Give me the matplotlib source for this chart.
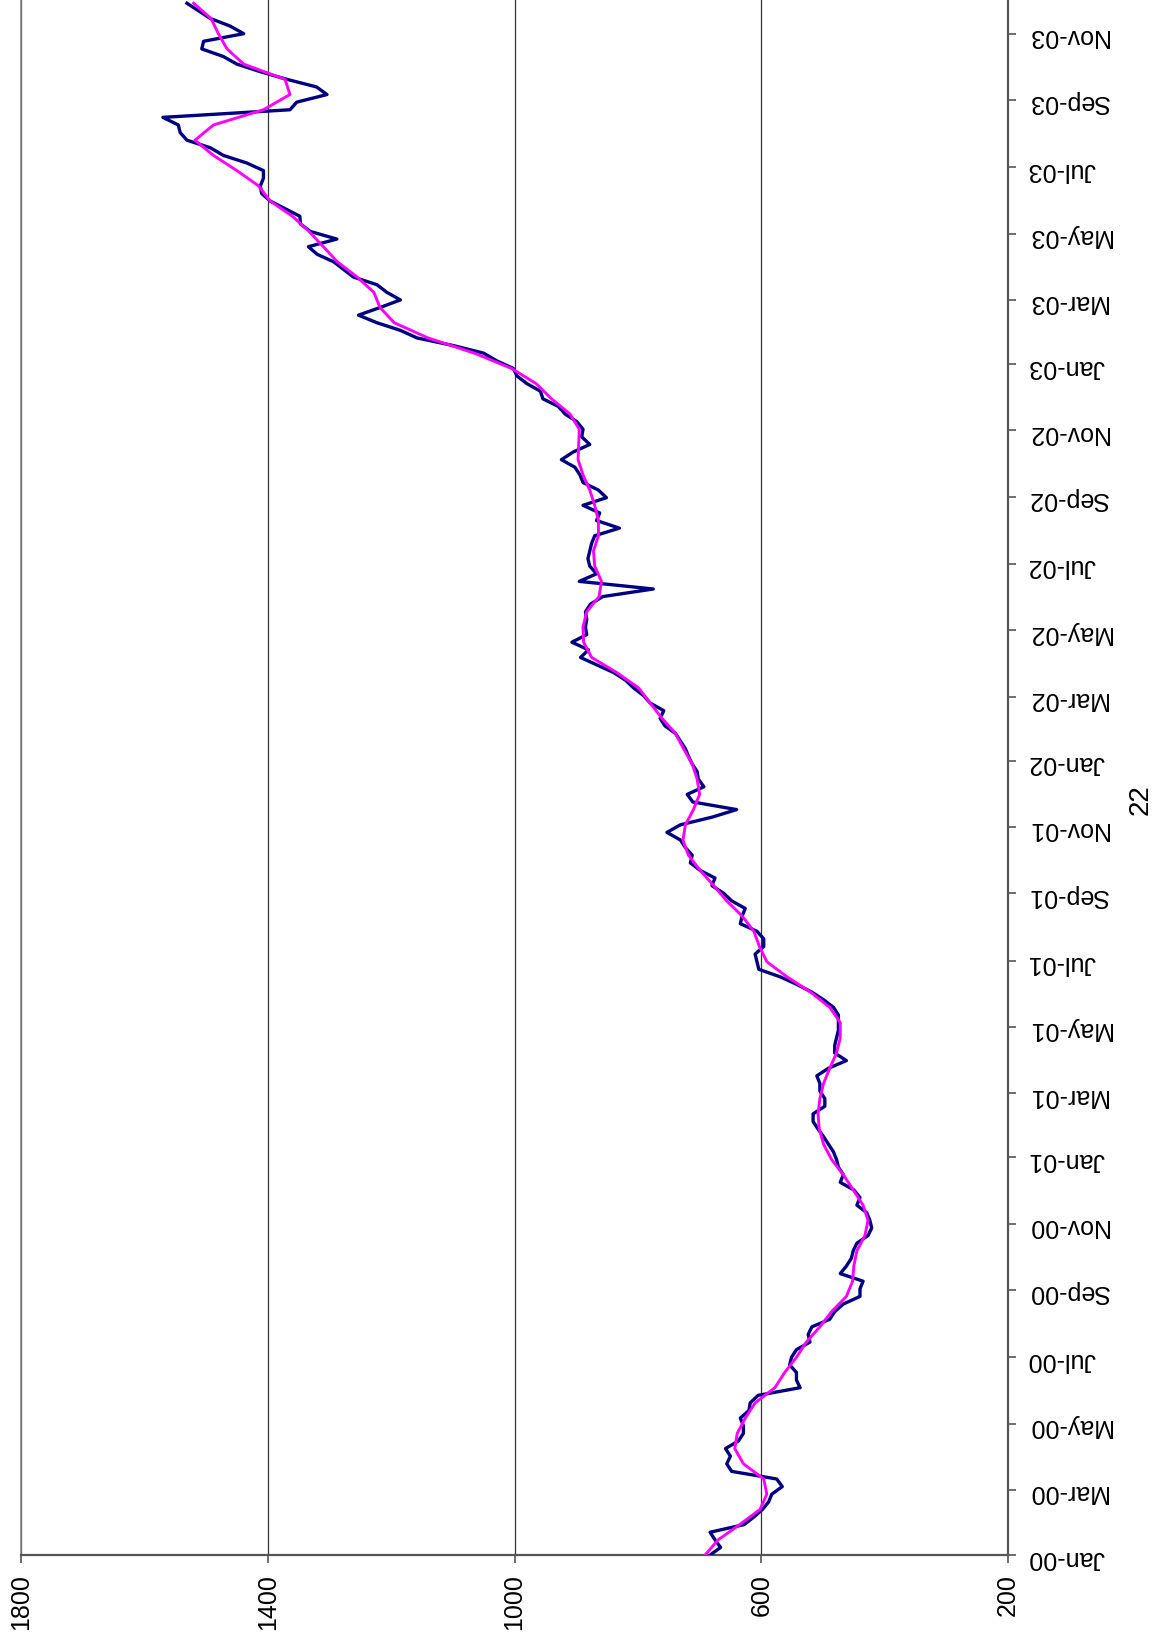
import numpy as np
import pandas as pd
import matplotlib
matplotlib.use('Agg')
import matplotlib.pyplot as plt
import matplotlib.dates as mdates

plt.rcParams['font.family'] = ['Liberation Sans', 'DejaVu Sans']

# weekly index values, Jan 2000 - Nov 2003
index_weekly = [
    683, 666, 675, 683, 628, 612, 598, 588, 583, 566,
    575, 648, 656, 650, 658, 637, 629, 629, 634, 620,
    618, 605, 537, 543, 543, 554, 551, 543, 521, 524,
    518, 489, 481, 467, 440, 440, 435, 472, 462, 454,
    451, 445, 427, 421, 424, 429, 445, 440, 450, 472,
    467, 475, 478, 483, 491, 499, 508, 516, 516, 497,
    497, 505, 505, 510, 491, 462, 481, 481, 478, 475,
    475, 475, 483, 499, 518, 542, 569, 604, 607, 610,
    596, 596, 607, 634, 631, 626, 648, 661, 680, 675,
    699, 715, 712, 723, 731, 753, 731, 680, 640, 711,
    720, 693, 702, 704, 712, 718, 723, 731, 739, 756,
    764, 758, 780, 791, 807, 820, 839, 866, 893, 880,
    907, 883, 885, 883, 885, 877, 857, 775, 895, 867,
    878, 881, 878, 875, 870, 830, 867, 862, 889, 851,
    864, 889, 894, 902, 924, 905, 878, 891, 889, 899,
    918, 929, 954, 958, 980, 996, 1002, 1029, 1050, 1099,
    1158, 1185, 1223, 1253, 1218, 1185, 1207, 1223, 1261, 1277,
    1293, 1320, 1334, 1288, 1331, 1347, 1348, 1372, 1396, 1410,
    1412, 1407, 1407, 1434, 1472, 1493, 1531, 1542, 1545, 1570,
    1364, 1353, 1304, 1321, 1369, 1412, 1450, 1472, 1507, 1504,
    1439, 1461, 1493, 1512, 1531,
]

# smoothed trend, one value every two weeks
trend_biweekly = [
    691, 670, 635, 602, 591, 596, 629, 643, 639, 626,
    610, 578, 562, 543, 527, 505, 486, 462, 452, 450,
    445, 432, 427, 435, 451, 467, 486, 499, 506, 508,
    505, 499, 489, 478, 472, 472, 489, 520, 558, 591,
    603, 612, 631, 656, 677, 699, 718, 727, 723, 710,
    700, 704, 712, 726, 739, 761, 780, 799, 834, 875,
    888, 889, 883, 863, 859, 870, 872, 864, 864, 870,
    878, 889, 897, 896, 895, 910, 940, 965, 1005, 1065,
    1140, 1195, 1218, 1228, 1255, 1287, 1310, 1333, 1360, 1396,
    1415, 1450, 1488, 1518, 1488, 1407, 1364, 1372, 1439, 1466,
    1480, 1492, 1520,
]

value_ticks = [1800, 1400, 1000, 600, 200]
page_number = '22'

start = pd.Timestamp('2000-01-01')
dates_weekly = pd.date_range(start, periods=len(index_weekly), freq='7D')
dates_biweekly = pd.date_range(start, periods=len(trend_biweekly), freq='14D')

fig = plt.figure(figsize=(11.6, 16.48), dpi=100)
ax = fig.add_axes([0.0181, 0.0564, 0.8509, 0.9436])

# chart is drawn turned on its side: values run horizontally, dates vertically
ax.plot(index_weekly, dates_weekly, color='#000080', lw=2.4, zorder=3)
ax.plot(trend_biweekly, dates_biweekly, color='#FF00FF', lw=2.1, zorder=4)

ax.set_xlim(1800, 200)
ax.set_ylim(start, start + pd.Timedelta(days=1431))

ax.set_xticks(value_ticks)
ax.set_xticklabels([str(v) for v in value_ticks], rotation=90)
ax.xaxis.grid(True, color='#333333', lw=0.9)
ax.set_axisbelow(True)

ax.yaxis.set_major_locator(mdates.MonthLocator(bymonth=[1, 3, 5, 7, 9, 11]))
ax.yaxis.set_major_formatter(mdates.DateFormatter('%b-%y'))
ax.yaxis.tick_right()
for lab in ax.get_yticklabels():
    lab.set_rotation(180)

ax.tick_params(axis='both', direction='out', length=6, width=1.2,
               color='#555555', labelsize=18, pad=8)

ax.spines['top'].set_visible(False)
ax.spines['left'].set_color('#808080')
ax.spines['left'].set_linewidth(1.2)
for side in ['right', 'bottom']:
    ax.spines[side].set_color('#555555')
    ax.spines[side].set_linewidth(1.6)

fig.text(0.983, 0.515, page_number, rotation=90, fontsize=20,
         ha='center', va='center')

fig.savefig('out.png', dpi=100)
